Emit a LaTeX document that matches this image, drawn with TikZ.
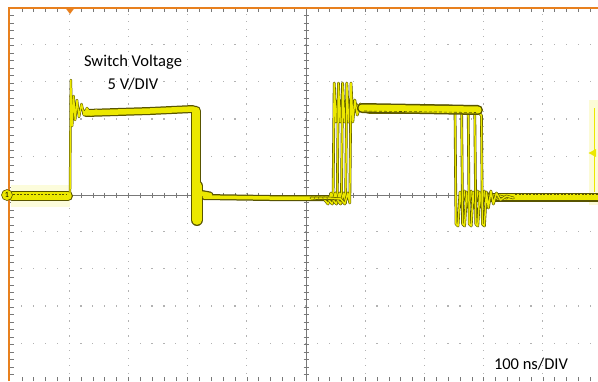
\documentclass[tikz,border=0pt]{standalone}
\usepackage{fontspec}
\setmainfont{Carlito}
\definecolor{orng}{RGB}{232,128,30}
\definecolor{tryel}{RGB}{236,232,0}
\definecolor{trdark}{RGB}{88,84,0}
\definecolor{gridc}{RGB}{178,178,178}
\definecolor{axisc}{RGB}{120,120,120}
\tikzset{
  tracebase/.style={line join=round,line cap=round},
  griddot/.style={fill=gridc},
  axisline/.style={draw=axisc,line width=0.6pt},
  tickline/.style={draw=axisc,line width=0.5pt},
  label/.style={font=\fontsize{16.5}{18}\selectfont,inner sep=0pt}
}
% first pulse pieces: #1 colour, #2 width reduction
\newcommand\pulseone[2]{%
  \draw[draw=#1,line width={10-#2},tracebase] (12,196) -- (68,196);
  \draw[draw=#1,line width={2.4-#2/2.5},tracebase] (66,197) -- (70,196) -- (70.8,80) -- (72.2,126) -- (73.6,96) -- (75.2,120) -- (77,100) -- (79,117) -- (81.5,104) -- (84,115) -- (87,108) -- (91,115) -- (96,110) -- (102,113);
  \draw[draw=#1,line width={8-#2},tracebase] (86,113) -- (150,111) -- (193,109);
  \draw[draw=#1,line width={10.5-#2},tracebase] (196,111) -- (196,188);
  \draw[draw=#1,line width={12-#2},tracebase] (197,186) -- (197,220);
  \draw[draw=#1,line width={7-#2},tracebase] (199,193) -- (210,195);
  \draw[draw=#1,line width={6-#2},tracebase] (204,197) -- (270,198) -- (334,198);
}
% one trace of the second pulse: #1 colour, #2 width, #3 rise, #4 fall, #5 level
\newcommand\pulsetwo[5]{%
  \draw[draw=#1,line width=#2,tracebase] (#3-22,198) -- (#3-9,199) -- (#3-5,204) -- (#3-2,193) -- (#3,203) -- (#3+1.2,83) -- (#3+3,122) -- (#3+5,100) -- (#3+7.5,115) -- (#3+10.5,104) -- (#3+14,111) -- (#3+19,#5) -- (#4-3,#5) -- (#4,#5+3) -- (#4+1,224) -- (#4+3,226) -- (#4+5,192) -- (#4+7,208) -- (#4+9.5,191) -- (#4+12,204) -- (#4+15,193) -- (#4+19,200) -- (#4+25,196) -- (#4+32,198);
}
\begin{document}
\begin{tikzpicture}[x=1pt,y=-1pt]
\useasboundingbox (0,0) rectangle (598,381);
\fill[white] (0,0) rectangle (598,381);
% dotted grid
\foreach \i in {1,2,3,4,6,7,8,9}{
  \foreach \k in {1,...,49}{
    \fill[griddot] ({10+59.2*\i-0.6},{8+7.48*\k-0.6}) rectangle +(1.2,-1.2);
  }
}
\foreach \j in {1,2,3,4,6,7,8,9}{
  \foreach \k in {1,...,50}{
    \fill[griddot] ({10+11.84*\k-0.6},{8+37.4*\j-0.6}) rectangle +(1.2,-1.2);
  }
}
% centre axes with ticks
\draw[axisline] (10,195) -- (598,195);
\draw[axisline] (306,8) -- (306,381);
\foreach \k in {1,...,50}{
  \draw[tickline] ({10+11.84*\k},192.5) -- ++(0,5);
  \draw[tickline] ({10+11.84*\k},8) -- ++(0,4);
  \draw[tickline] ({10+11.84*\k},381) -- ++(0,-4);
}
\foreach \k in {1,...,49}{
  \draw[tickline] (303.5,{8+7.48*\k}) -- ++(5,0);
  \draw[tickline] (10,{8+7.48*\k}) -- ++(4,0);
}
% orange frame and trigger marker
\draw[orng,line width=2pt] (9,381) -- (9,8) -- (598,8);
\fill[orng] (65.5,8) -- (74.5,8) -- (70,14) -- cycle;
% glow
\fill[tryel!14] (11,185) rectangle (70,207);
\fill[tryel!16] (589,100) rectangle (598,205);
% first pulse
\pulseone{trdark}{0}
\pulseone{tryel}{2.5}
\draw[trdark,line width=0.8pt,dash pattern=on 2pt off 1.5pt] (13,194.5) -- (67,194.5);
% low band after second pulse
\draw[draw=trdark,line width=9pt,tracebase] (478,197) -- (598,197);
\draw[draw=tryel,line width=6.5pt,tracebase] (478,197) -- (598,197);
% second pulse, several overlapping traces
\foreach \i in {0,...,4}{
  \pgfmathsetmacro\rr{333+4.2*\i}
  \pgfmathsetmacro\ff{455+6.6*\i}
  \pgfmathsetmacro\hh{106+1.6*\i}
  \pulsetwo{trdark}{2.7pt}{\rr}{\ff}{\hh}
  \pulsetwo{tryel}{1.5pt}{\rr}{\ff}{\hh}
}
% solid flat top of the second pulse
\draw[draw=trdark,line width=10pt,tracebase] (362,108) -- (478,110);
\draw[draw=tryel,line width=7pt,tracebase] (362,108) -- (478,110);
\draw[trdark,line width=0.6pt,dash pattern=on 3pt off 2pt] (364,111) -- (476,112.5);
\draw[trdark,line width=0.7pt,dash pattern=on 2pt off 1.5pt] (515,194.5) -- (598,194.5);
% right edge trace and level marker
\draw[tryel,line width=1.3pt] (594.5,108) -- (594.5,192);
\fill[tryel] (588.5,153) -- (596,149) -- (596,157) -- cycle;
% channel marker
\node[circle,fill=tryel,draw=trdark,line width=0.6pt,inner sep=0pt,minimum size=11pt,font=\fontsize{8}{8}\selectfont] (ch1) at (7,195) {1};
% labels
\node[label] (lab1) at (133,62) {Switch Voltage};
\node[label] (lab2) at (133,84) {5 V/DIV};
\node[label] (lab3) at (531,364) {100 ns/DIV};
\end{tikzpicture}
\end{document}
